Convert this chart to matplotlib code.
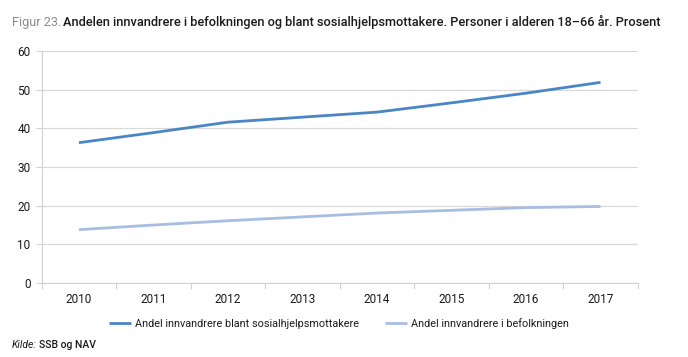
import matplotlib
matplotlib.use("Agg")
import matplotlib.pyplot as plt

aar = ["2010", "2011", "2012", "2013", "2014", "2015", "2016", "2017"]
sosialhjelp = [36.3, 38.9, 41.6, 42.9, 44.2, 46.6, 49.1, 51.9]
befolkning = [13.8, 15.0, 16.1, 17.1, 18.1, 18.8, 19.5, 19.8]
navn_sosialhjelp = "Andel innvandrere blant sosialhjelpsmottakere"
navn_befolkning = "Andel innvandrere i befolkningen"
tittel_nr = "Figur 23."
tittel = "Andelen innvandrere i befolkningen og blant sosialhjelpsmottakere. Personer i alderen 18–66 år. Prosent"

plt.rcParams["font.family"] = ["Roboto", "DejaVu Sans"]

fig = plt.figure(figsize=(6.88, 3.57), dpi=100)
ax = fig.add_axes([0.0606, 0.2073, 0.8664, 0.6497])

x = list(range(len(aar)))
ax.plot(x, sosialhjelp, color="#4a85c6", linewidth=2.0, label=navn_sosialhjelp,
        solid_capstyle="butt")
ax.plot(x, befolkning, color="#a8bde2", linewidth=2.0, label=navn_befolkning,
        solid_capstyle="butt")

ax.set_xlim(-0.5, len(aar) - 0.5)
ax.set_ylim(0, 60)
ax.set_yticks(range(0, 61, 10))
ax.set_xticks(x)
ax.set_xticklabels(aar)
ax.set_xticks([i - 0.5 for i in range(len(aar) + 1)], minor=True)
ax.tick_params(axis="x", which="major", length=0, pad=7, labelsize=8.5, colors="#1a1a1a")
ax.tick_params(axis="x", which="minor", length=4, color="#d0d0d0", width=0.8)
ax.tick_params(axis="y", length=4, color="#d0d0d0", width=0.8, pad=4,
               labelsize=8.5, labelcolor="#1a1a1a")
ax.grid(axis="y", color="#d9d9d9", linewidth=0.9)
ax.set_axisbelow(True)
for s in ["top", "right"]:
    ax.spines[s].set_visible(False)
ax.spines["left"].set_color("#d0d0d0")
ax.spines["bottom"].set_color("#d0d0d0")
ax.spines["left"].set_linewidth(0.8)
ax.spines["bottom"].set_linewidth(0.8)

fig.legend(loc="center", bbox_to_anchor=(0.493, 0.093), ncol=2, frameon=False,
           fontsize=7.8, handlelength=2.0, handletextpad=0.4, columnspacing=2.4,
           labelcolor="#1a1a1a")

# tittel i to farger
t1 = fig.text(0.017, 0.937, tittel_nr, fontsize=9.2, color="#8c8c8c", va="center")
fig.canvas.draw()
bb = t1.get_window_extent()
fig.text(bb.x1 / fig.bbox.width + 0.003, 0.937, tittel, fontsize=9.2,
         color="#1a1a1a", va="center", fontweight="medium")

k1 = fig.text(0.017, 0.035, "Kilde:", fontsize=7.5, style="italic", color="#1a1a1a", va="center")
fig.canvas.draw()
bb = k1.get_window_extent()
fig.text(bb.x1 / fig.bbox.width + 0.004, 0.035, "SSB og NAV", fontsize=7.5,
         color="#1a1a1a", va="center", fontweight="medium")

fig.savefig("out.png", dpi=100)
